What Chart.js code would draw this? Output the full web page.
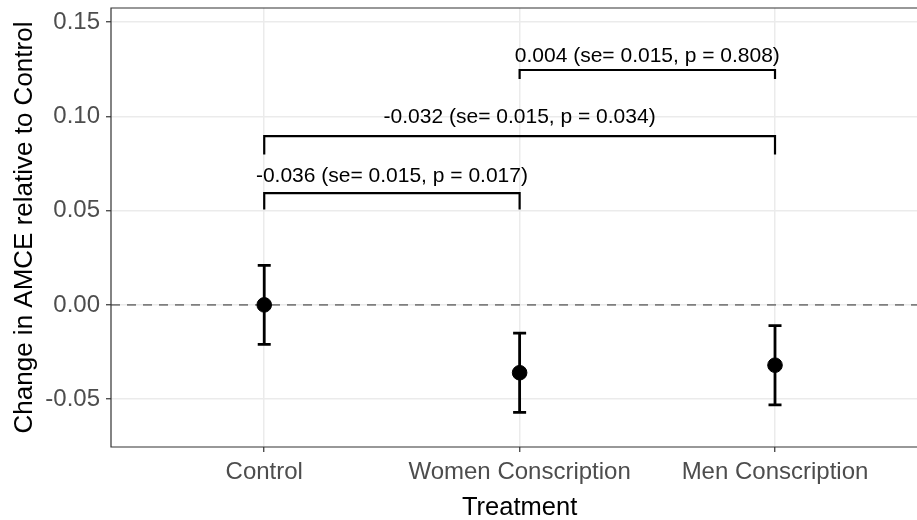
<!DOCTYPE html>
<html>
<head>
<meta charset="utf-8">
<script src="https://cdn.jsdelivr.net/npm/chart.js"></script>
<style>
  html, body { margin: 0; padding: 0; background: #fff; overflow: hidden; }
</style>
</head>
<body>
<canvas id="amceChart" width="917" height="520"></canvas>
<script>
const treatments = ['Control', 'Women Conscription', 'Men Conscription'];
const estimates = [0, -0.036, -0.032];
const ciLower = [-0.021, -0.057, -0.053];
const ciUpper = [0.021, -0.015, -0.011];
const yTicks = [-0.05, 0, 0.05, 0.10, 0.15];

// comparison brackets, indexes into treatments
const bracketFrom = [0, 0, 1];
const bracketTo = [1, 2, 2];
const bracketTop = [0.0593, 0.0895, 0.1246];
const bracketEnd = [0.0506, 0.0798, 0.1198];
const bracketLabelY = [0.0653, 0.0964, 0.1289];
const bracketLabels = [
  '-0.036 (se= 0.015, p = 0.017)',
  '-0.032 (se= 0.015, p = 0.034)',
  '0.004 (se= 0.015, p = 0.808)'
];
const xTitle = 'Treatment';

const FONT = '"Liberation Sans", Arial, Helvetica, sans-serif';

const bracketSets = bracketFrom.map((f, i) => ({
  type: 'line',
  data: [
    {x: f, y: bracketEnd[i]},
    {x: f, y: bracketTop[i]},
    {x: bracketTo[i], y: bracketTop[i]},
    {x: bracketTo[i], y: bracketEnd[i]}
  ],
  borderColor: '#000',
  borderWidth: 2.2,
  pointRadius: 0,
  fill: false,
  tension: 0
}));

const panelPlugin = {
  id: 'panel',
  beforeDatasetsDraw(chart) {
    const {ctx, chartArea: a, scales: {y}} = chart;
    const y0 = y.getPixelForValue(0);
    ctx.save();
    ctx.strokeStyle = '#7f7f7f';
    ctx.lineWidth = 1.6;
    ctx.setLineDash([9, 7]);
    ctx.beginPath();
    ctx.moveTo(a.left, y0);
    ctx.lineTo(a.right, y0);
    ctx.stroke();
    ctx.restore();
  },
  afterDatasetsDraw(chart) {
    const {ctx, chartArea: a, scales: {x, y}} = chart;
    ctx.save();
    // error bars
    ctx.strokeStyle = '#000';
    ctx.lineWidth = 2.8;
    estimates.forEach((e, i) => {
      const px = x.getPixelForValue(i);
      const lo = y.getPixelForValue(ciLower[i]);
      const hi = y.getPixelForValue(ciUpper[i]);
      ctx.beginPath();
      ctx.moveTo(px, lo); ctx.lineTo(px, hi);
      ctx.moveTo(px - 6.5, lo); ctx.lineTo(px + 6.5, lo);
      ctx.moveTo(px - 6.5, hi); ctx.lineTo(px + 6.5, hi);
      ctx.stroke();
    });
    // bracket labels
    ctx.fillStyle = '#000';
    ctx.font = '21px ' + FONT;
    ctx.textAlign = 'center';
    ctx.textBaseline = 'alphabetic';
    bracketLabels.forEach((t, i) => {
      const mx = (x.getPixelForValue(bracketFrom[i]) + x.getPixelForValue(bracketTo[i])) / 2;
      ctx.fillText(t, mx, y.getPixelForValue(bracketLabelY[i]));
    });
    // x title, centred on the full panel (which runs past the right edge)
    ctx.font = '25.5px ' + FONT;
    ctx.fillText(xTitle, x.getPixelForValue(1), chart.height - 5);
    // panel border
    ctx.strokeStyle = '#333';
    ctx.lineWidth = 1.2;
    ctx.beginPath();
    ctx.moveTo(a.right + 2, a.top);
    ctx.lineTo(a.left, a.top);
    ctx.lineTo(a.left, a.bottom);
    ctx.lineTo(a.right + 2, a.bottom);
    ctx.stroke();
    ctx.restore();
  }
};

new Chart(document.getElementById('amceChart').getContext('2d'), {
  data: {
    datasets: [
      ...bracketSets,
      {
        type: 'scatter',
        data: estimates.map((e, i) => ({x: i, y: e})),
        backgroundColor: '#000',
        borderColor: '#000',
        pointRadius: 7.3,
        pointHoverRadius: 7.3
      }
    ]
  },
  options: {
    responsive: false,
    animation: false,
    layout: {padding: {top: 8, left: 0, right: 0, bottom: 0}, autoPadding: false},
    plugins: {legend: {display: false}, tooltip: {enabled: false}},
    scales: {
      x: {
        type: 'linear',
        min: -0.6,
        max: 2.556,
        afterBuildTicks: s => { s.ticks = treatments.map((t, i) => ({value: i})); },
        afterFit: s => { s.height = 73; s.paddingLeft = 0; s.paddingRight = 0; },
        grid: {color: '#ebebeb', lineWidth: 1.5, tickColor: '#333', tickLength: 5, tickWidth: 1.2},
        border: {display: false},
        ticks: {
          callback: v => treatments[v],
          color: '#4d4d4d',
          font: {family: FONT, size: 24},
          padding: 6,
          maxRotation: 0,
          autoSkip: false
        },
        title: {display: false}
      },
      y: {
        min: -0.0754,
        max: 0.1575,
        afterBuildTicks: s => { s.ticks = yTicks.map(v => ({value: v})); },
        afterFit: s => { s.width = 111; s.paddingTop = 0; s.paddingBottom = 0; },
        grid: {color: '#ebebeb', lineWidth: 1.5, tickColor: '#333', tickLength: 5, tickWidth: 1.2},
        border: {display: false},
        ticks: {
          callback: v => v.toFixed(2),
          color: '#4d4d4d',
          font: {family: FONT, size: 24},
          padding: 6
        },
        title: {
          display: true,
          text: 'Change in AMCE relative to Control',
          color: '#000',
          font: {family: FONT, size: 26, lineHeight: 1.2},
          padding: {top: 9, bottom: 0}
        }
      }
    }
  },
  plugins: [panelPlugin]
});
</script>
</body>
</html>
